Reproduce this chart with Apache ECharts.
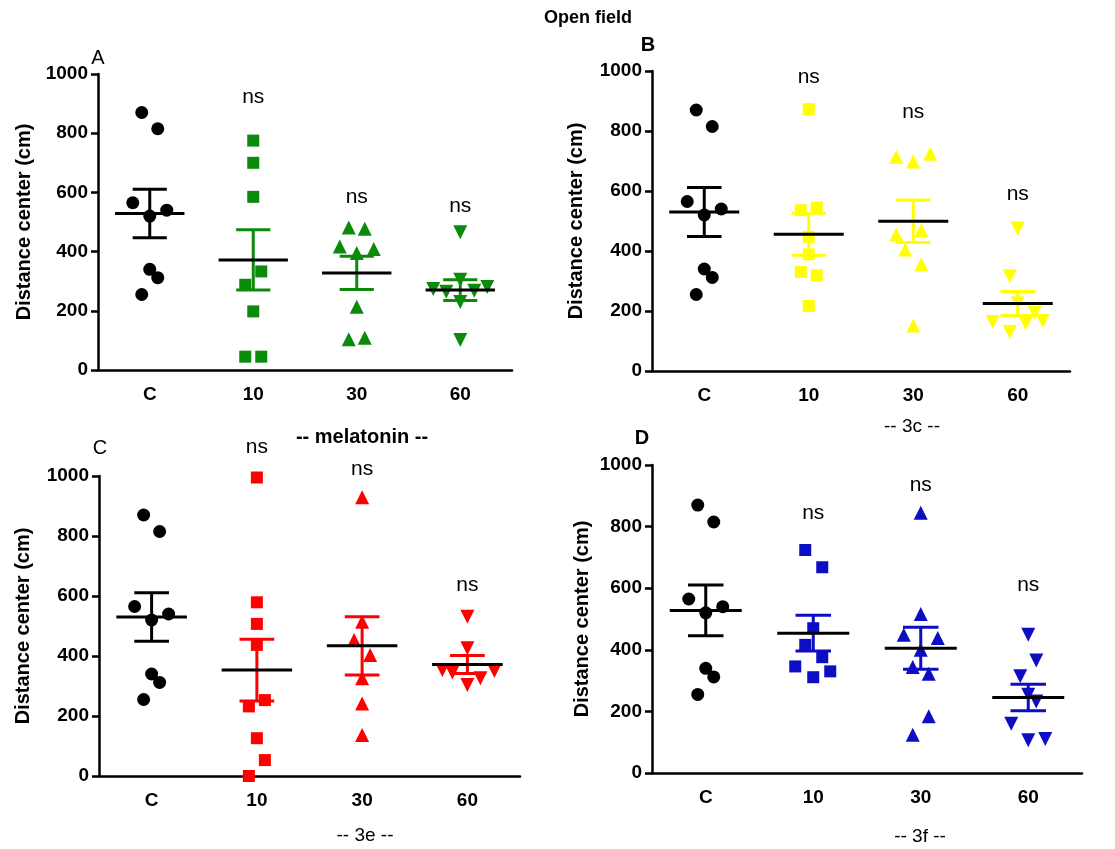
<!DOCTYPE html>
<html>
<head>
<meta charset="utf-8">
<title>Open field</title>
<script src="https://cdn.jsdelivr.net/npm/echarts@6/dist/echarts.min.js"></script>
<style>
  html, body { margin: 0; padding: 0; background: #ffffff; }
  #chart { width: 1115px; height: 849px; }
</style>
</head>
<body>
<div id="chart"></div>
<script>
const categories = ["C", "10", "30", "60"];
const yTicks = [0, 200, 400, 600, 800, 1000];

// control group (same animals in every panel)
const controlValues = [870, 815, 565, 520, 540, 340, 312, 255];

// A: melatonin
const melatonin10 = [775, 700, 585, 333, 288, 198, 45, 45];
const melatonin30 = [481, 477, 417, 409, 395, 214, 104, 109];
const melatonin60 = [465, 305, 274, 264, 268, 280, 230, 101];
const meanA = [529, 372, 328, 270];
const semA = [82, 102, 56, 35];

// B: 3c
const c3c10 = [873, 536, 545, 447, 389, 330, 319, 217];
const c3c30 = [714, 698, 724, 455, 469, 405, 356, 152];
const c3c60 = [475, 316, 225, 193, 167, 163, 158, 130];
const meanB = [530, 456, 499, 225];
const semB = [82, 70, 71, 40];

// C: 3e
const c3e10 = [995, 579, 507, 437, 253, 232, 126, 53, 0];
const c3e30 = [929, 514, 453, 403, 326, 242, 137];
const c3e60 = [531, 426, 353, 345, 303, 326, 350];
const meanC = [530, 353, 434, 372];
const semC = [81, 103, 97, 30];

// D: 3f
const c3f10 = [724, 668, 470, 416, 376, 346, 330, 311];
const c3f30 = [845, 516, 449, 438, 400, 344, 322, 184, 124];
const c3f60 = [449, 365, 314, 254, 232, 160, 106, 110];
const meanD = [528, 454, 405, 245];
const semD = [82, 58, 68, 43];

// "ns" annotations: height (in cm units) where the label sits, null = none
const nsA = [null, 923, 585, 555];
const nsB = [null, 980, 863, 590];
const nsC = [null, 1097, 1023, 637];
const nsD = [null, 844, 935, 610];

// horizontal spread of the dots (px), like the prism scatter layout
const spreadControl = [-8, 8, -17, 0, 17, 0, 8, -8];
const spreadA = [
  [0, 0, 0, 8, -8, 0, -8, 8],
  [-8, 8, -17, 17, 0, 0, -8, 8],
  [0, 0, -27, -14, 14, 27, 0, 0],
];
const spreadB = [
  [0, -8, 8, 0, 0, -8, 8, 0],
  [-17, 0, 17, -17, 8, -8, 8, 0],
  [0, -8, 0, 17, 25, -25, 8, -8],
];
const spreadC = [
  [0, 0, 0, 0, 8, -8, 0, 8, -8],
  [0, 0, -8, 8, 0, 0, 0],
  [0, 0, -25, -15, 0, 13, 27],
];
const spreadD = [
  [-8, 9, 0, -8, 9, -18, 17, 0],
  [0, 0, -17, 17, 0, -8, 8, 8, -8],
  [0, 8, -8, 0, 8, -17, 0, 17],
];

const FONT = "'Liberation Sans', Arial, sans-serif";
const BLACK = "#000000";

const panels = [
  { grid: { left: 98, top: 74, width: 414, height: 296 }, color: "#0b8a0b",
    groups: [controlValues, melatonin10, melatonin30, melatonin60],
    spreads: [spreadControl].concat(spreadA), means: meanA, sems: semA, ns: nsA, nameGap: 64 },
  { grid: { left: 652, top: 71, width: 418, height: 300 }, color: "#ffff00",
    groups: [controlValues, c3c10, c3c30, c3c60],
    spreads: [spreadControl].concat(spreadB), means: meanB, sems: semB, ns: nsB, nameGap: 66 },
  { grid: { left: 99, top: 476, width: 421, height: 300 }, color: "#ff0000",
    groups: [controlValues, c3e10, c3e30, c3e60],
    spreads: [spreadControl].concat(spreadC), means: meanC, sems: semC, ns: nsC, nameGap: 66 },
  { grid: { left: 652, top: 465, width: 430, height: 308 }, color: "#0d0dc4",
    groups: [controlValues, c3f10, c3f30, c3f60],
    spreads: [spreadControl].concat(spreadD), means: meanD, sems: semD, ns: nsD, nameGap: 60 },
];

const symbols = ["circle", "rect", "triangle", "triangle"];
const symbolRotates = [0, 0, 0, 180];
const symbolSizes = [13, 12, 14, 14];

const chart = echarts.init(document.getElementById("chart"));

const grids = [];
const xAxes = [];
const yAxes = [];
const series = [];

panels.forEach((p, pi) => {
  grids.push(p.grid);
  xAxes.push({
    type: "category",
    gridIndex: pi,
    data: categories,
    axisLine: { lineStyle: { color: BLACK, width: 2.5 } },
    axisTick: { alignWithLabel: true, length: 7, lineStyle: { color: BLACK, width: 2.5 } },
    axisLabel: { color: BLACK, fontFamily: FONT, fontWeight: "bold", fontSize: 19, margin: 15 },
  });
  yAxes.push({
    type: "value",
    gridIndex: pi,
    min: yTicks[0],
    max: yTicks[yTicks.length - 1],
    interval: yTicks[1] - yTicks[0],
    name: "Distance center (cm)",
    nameLocation: "middle",
    nameRotate: 90,
    nameGap: p.nameGap,
    nameTextStyle: { color: BLACK, fontFamily: FONT, fontWeight: "bold", fontSize: 20 },
    axisLine: { show: true, lineStyle: { color: BLACK, width: 2.5 } },
    axisTick: { show: true, length: 7, lineStyle: { color: BLACK, width: 2.5 } },
    axisLabel: {
      color: BLACK, fontFamily: FONT, fontWeight: "bold", fontSize: 19, margin: 10,
      formatter: (v) => String(v),
    },
    splitLine: { show: false },
  });

  const groupColors = categories.map((c, ci) => (ci === 0 ? BLACK : p.color));

  p.groups.forEach((vals, ci) => {
    series.push({
      type: "scatter",
      xAxisIndex: pi,
      yAxisIndex: pi,
      symbol: symbols[ci],
      symbolRotate: symbolRotates[ci],
      symbolSize: symbolSizes[ci],
      itemStyle: { color: groupColors[ci], opacity: 1 },
      z: 2,
      silent: true,
      data: vals.map((v, i) => ({ value: [ci, v], symbolOffset: [p.spreads[ci][i] || 0, 0] })),
    });
  });

  // mean with SEM bars
  series.push({
    type: "custom",
    xAxisIndex: pi,
    yAxisIndex: pi,
    z: 3,
    silent: true,
    data: p.means.map((m, ci) => [ci, m, p.sems[ci]]),
    renderItem: (params, api) => {
      const ci = api.value(0);
      const m = api.value(1);
      const s = api.value(2);
      const c = api.coord([ci, m]);
      const hi = api.coord([ci, m + s]);
      const lo = api.coord([ci, m - s]);
      const band = api.size([1, 0])[0];
      const col = groupColors[ci];
      const cap = band * 0.165;
      const half = band * 0.335;
      const st = { stroke: col, lineWidth: 3 };
      return {
        type: "group",
        children: [
          { type: "line", shape: { x1: c[0], y1: hi[1], x2: c[0], y2: lo[1] }, style: st },
          { type: "line", shape: { x1: c[0] - cap, y1: hi[1], x2: c[0] + cap, y2: hi[1] }, style: st },
          { type: "line", shape: { x1: c[0] - cap, y1: lo[1], x2: c[0] + cap, y2: lo[1] }, style: st },
          { type: "line", shape: { x1: c[0] - half, y1: c[1], x2: c[0] + half, y2: c[1] },
            style: { stroke: BLACK, lineWidth: 3 } },
        ],
      };
    },
  });

  // "ns" labels
  series.push({
    type: "scatter",
    xAxisIndex: pi,
    yAxisIndex: pi,
    clip: false,
    silent: true,
    symbolSize: 0,
    itemStyle: { color: "#ffffff", opacity: 1 },
    label: {
      show: true,
      position: "inside",
      formatter: "ns",
      color: BLACK,
      opacity: 1,
      fontFamily: FONT,
      fontSize: 21,
    },
    z: 4,
    data: p.ns.map((h, ci) => (h === null ? null : [ci, h])).filter((d) => d !== null),
  });
});

function txt(x, y, text, size, weight) {
  return {
    type: "text",
    x: x,
    y: y,
    silent: true,
    style: {
      text: text,
      fill: BLACK,
      font: (weight || "normal") + " " + size + "px " + FONT,
      textAlign: "center",
      textVerticalAlign: "middle",
    },
  };
}

const option = {
  backgroundColor: "#ffffff",
  animation: false,
  grid: grids,
  xAxis: xAxes,
  yAxis: yAxes,
  series: series,
  graphic: [
    txt(588, 18, "Open field", 18, "bold"),
    txt(98, 58, "A", 20),
    txt(648, 45, "B", 20, "bold"),
    txt(100, 448, "C", 20),
    txt(642, 438, "D", 20, "bold"),
    txt(362, 437, "-- melatonin --", 20, "bold"),
    txt(912, 427, "-- 3c --", 19),
    txt(365, 836, "-- 3e --", 19),
    txt(920, 837, "-- 3f --", 19),
  ],
};

chart.setOption(option);
window.addEventListener("resize", () => chart.resize());
</script>
</body>
</html>
